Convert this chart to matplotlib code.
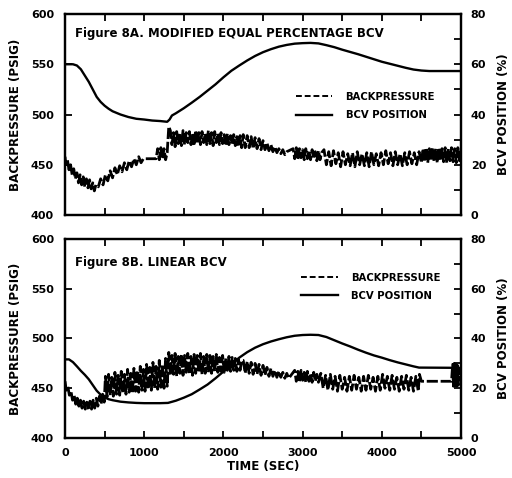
import matplotlib
matplotlib.use("Agg")
import matplotlib.pyplot as plt
from matplotlib.ticker import MultipleLocator
from matplotlib.lines import Line2D

# ---------------- Figure 8A data ----------------
bpA_t = [0, 10, 30, 50, 70, 90, 110, 130, 150, 170, 190, 210, 230, 250, 270, 290, 310, 330, 350, 370, 390,
         420, 450, 480, 510, 540, 570, 600, 630, 660, 690, 720, 750, 780, 810, 840, 870, 900, 930, 960,
         990, 1150,
         1170, 1190, 1210, 1230, 1250, 1270, 1290, 1310,
         1330, 1350, 1370, 1390, 1410, 1430, 1450, 1470, 1490, 1510, 1530, 1550, 1570, 1590, 1610, 1630,
         1650, 1670, 1690, 1710, 1730, 1750, 1770, 1790, 1810, 1830, 1850, 1870, 1890, 1910, 1930, 1950,
         1970, 1990, 2010, 2030, 2050, 2070, 2090, 2110, 2130, 2150, 2170, 2190, 2210, 2230,
         2250, 2275, 2300, 2325, 2350, 2375, 2400, 2425, 2450, 2475, 2500, 2525, 2550, 2575, 2600, 2625,
         2650, 2675, 2700, 2725, 2750, 2775, 2800,
         2880, 2900, 2920, 2940, 2960, 2980, 3000, 3020, 3040, 3060, 3080, 3100, 3120, 3140, 3160, 3180,
         3200, 3220, 3240,
         3270, 3300, 3330, 3360, 3390, 3420, 3450, 3480, 3510, 3540, 3570, 3600, 3630, 3660, 3690, 3720,
         3750, 3780, 3810, 3840, 3870, 3900, 3930, 3960, 3990, 4020, 4050, 4080, 4110, 4140, 4170, 4200,
         4230, 4260, 4290, 4320, 4350, 4380, 4410, 4440, 4470, 4500,
         4520, 4540, 4560, 4580, 4600, 4620, 4640, 4660, 4680, 4700, 4720, 4740, 4760, 4780, 4800, 4820,
         4840, 4860, 4880, 4900, 4920, 4940, 4960, 4980, 5000]
bpA_v = [458, 450, 455, 445, 450, 440, 446, 436, 442, 432, 440, 430, 438, 428, 436, 427, 435, 426, 432, 424, 430,
         428, 436, 430, 440, 434, 444, 437, 447, 440, 449, 443, 452, 445, 454, 448, 456, 450, 458, 452,
         456, 456,
         466, 455, 467, 456, 466, 455, 462, 488,
         484, 470, 482, 468, 483, 471, 481, 469, 484, 470, 482, 472, 483, 470, 481, 469,
         484, 471, 482, 470, 483, 472, 481, 470, 484, 471, 482, 469, 483, 472, 481, 470,
         482, 471, 480, 469, 481, 470, 479, 470, 480, 469, 478, 468, 479, 467,
         480, 467, 479, 467, 478, 466, 477, 466, 476, 465, 474, 465, 472, 464, 470, 463,
         468, 462, 466, 461, 465, 460, 463,
         466, 456, 467, 455, 466, 457, 465, 455, 466, 456, 464, 455, 465, 456, 463, 454,
         464, 455, 462,
         465, 450, 463, 449, 464, 451, 462, 448, 463, 450, 461, 449, 462, 448, 463, 450,
         461, 449, 462, 448, 463, 450, 461, 449, 462, 450, 464, 451, 462, 449, 463, 450,
         461, 449, 462, 450, 463, 451, 462, 450, 463, 452,
         466, 453, 467, 452, 466, 454, 467, 453, 466, 452, 467, 454, 466, 453, 467, 452,
         466, 454, 467, 453, 466, 452, 467, 454, 466]

bcvA_t = [0, 100, 150, 200, 250, 300, 350, 400, 450, 500, 550, 600, 700, 800, 900, 1000, 1100, 1200,
          1290, 1320, 1350, 1400, 1500, 1600, 1700, 1800, 1900, 2000, 2100, 2200, 2300, 2400, 2500,
          2600, 2700, 2800, 2900, 3000, 3100, 3200, 3300, 3400, 3500, 3600, 3700, 3800, 3900, 4000,
          4100, 4200, 4300, 4400, 4500, 4600, 5000]
bcvA_v = [60, 60, 59.5, 58, 55.5, 53, 50, 47, 45, 43.5, 42.3, 41.3, 40, 39, 38.3, 38, 37.6, 37.4,
          37.1, 38, 39.6, 40.5, 42.5, 44.7, 47, 49.5, 52, 54.8, 57.4, 59.5, 61.5, 63.3, 64.8,
          66, 67, 67.7, 68.2, 68.4, 68.5, 68.3, 67.6, 66.8, 65.8, 64.9, 64, 63, 62, 61,
          60.2, 59.4, 58.6, 57.9, 57.5, 57.3, 57.3]

# ---------------- Figure 8B data ----------------
bpB_t = [0, 15, 35, 55, 75, 95, 115, 135, 155, 175, 195, 215, 235, 255, 275, 295, 315, 335, 355, 375,
         395, 415, 435, 455, 475, 495,
         510, 530, 550, 570, 590, 610, 630, 650, 670, 690, 710, 730, 750, 770, 790, 810, 830, 850, 870, 890,
         910, 930, 950, 970, 990, 1010, 1030, 1050, 1070, 1090, 1110, 1130, 1150, 1170, 1190, 1210, 1230,
         1250, 1270, 1290,
         1310, 1330, 1350, 1370, 1390, 1410, 1430, 1450, 1470, 1490, 1510, 1530, 1550, 1570, 1590, 1610,
         1630, 1650, 1670, 1690, 1710, 1730, 1750, 1770, 1790, 1810, 1830, 1850, 1870, 1890, 1910, 1930,
         1950, 1970, 1990, 2010, 2030, 2050, 2070, 2090, 2110, 2130, 2150, 2170, 2190, 2210, 2230,
         2250, 2275, 2300, 2325, 2350, 2375, 2400, 2425, 2450, 2475, 2500, 2525, 2550, 2575, 2600, 2625,
         2650, 2675, 2700, 2725, 2750, 2775, 2800, 2825,
         2900, 2920, 2940, 2960, 2980, 3000, 3020, 3040, 3060, 3080, 3100, 3120, 3140, 3160, 3180, 3200,
         3230, 3260, 3290, 3320, 3350, 3380, 3410, 3440, 3470, 3500, 3530, 3560, 3590, 3620, 3650, 3680,
         3710, 3740, 3770, 3800, 3830, 3860, 3890, 3920, 3950, 3980, 4010, 4040, 4070, 4100, 4130, 4160,
         4190, 4220, 4250, 4280, 4310, 4340, 4370, 4400, 4430,
         4460, 4475, 4500, 4880, 4895, 4905, 4915, 4925, 4935, 4945, 4955, 4965, 4975, 5000]
bpB_v = [457, 448, 452, 443, 447, 438, 443, 434, 440, 432, 438, 430, 437, 429, 436, 428, 437, 429, 438, 430,
         440, 432, 442, 434, 444, 436,
         462, 441, 464, 443, 461, 442, 466, 444, 463, 443, 467, 445, 464, 444, 469, 446, 465, 445, 470, 447,
         468, 446, 472, 448, 469, 447, 474, 449, 471, 448, 476, 450, 472, 449, 478, 451, 474,
         450, 480, 452,
         486, 463, 483, 464, 485, 462, 482, 465, 484, 463, 483, 466, 485, 464, 482, 463,
         484, 465, 483, 466, 485, 464, 482, 465, 484, 466, 483, 465, 482, 467, 484, 466,
         481, 467, 483, 466, 480, 468, 482, 467, 481, 468, 480, 467, 479, 468, 478,
         478, 465, 477, 465, 476, 464, 475, 464, 474, 463, 473, 463, 471, 462, 470, 462,
         468, 461, 467, 461, 466, 460, 465, 460,
         468, 457, 467, 456, 468, 458, 466, 456, 467, 457, 465, 456, 466, 457, 464, 456,
         465, 450, 463, 448, 464, 449, 462, 447, 463, 449, 461, 447, 462, 448, 463, 449,
         461, 447, 462, 448, 463, 449, 461, 447, 462, 448, 464, 450, 462, 448, 463, 449,
         461, 447, 462, 449, 463, 448, 461, 447, 462,
         447, 464, 457, 457, 474, 452, 475, 451, 474, 452, 473, 453, 470, 458]

bcvB_t = [0, 50, 100, 150, 200, 250, 300, 350, 400, 450, 500, 550, 600, 700, 800, 900, 1000, 1100,
          1200, 1300, 1400, 1500, 1600, 1700, 1800, 1900, 2000, 2100, 2200, 2300, 2400, 2500, 2600,
          2700, 2800, 2900, 3000, 3100, 3200, 3300, 3400, 3500, 3600, 3700, 3800, 3900, 4000, 4100,
          4200, 4300, 4400, 4470, 5000]
bcvB_v = [31.6, 31.6, 30.5, 28.8, 27, 25.4, 23.6, 21.3, 19, 17.4, 16.3, 15.6, 15.2, 14.6, 14.3, 14.1,
          14, 14, 14, 14.1, 15, 16.2, 17.6, 19.5, 21.5, 24, 26.7, 29.6, 32.3, 34.5, 36.3, 37.7, 38.8,
          39.7, 40.5, 41.1, 41.4, 41.5, 41.4, 40.6, 39.3, 38, 36.8, 35.5, 34.3, 33.2, 32.3, 31.3,
          30.4, 29.6, 28.8, 28.3, 28.2]

assert len(bpA_t) == len(bpA_v), (len(bpA_t), len(bpA_v))
assert len(bpB_t) == len(bpB_v), (len(bpB_t), len(bpB_v))
assert len(bcvA_t) == len(bcvA_v), (len(bcvA_t), len(bcvA_v))
assert len(bcvB_t) == len(bcvB_v), (len(bcvB_t), len(bcvB_v))

titles = ["Figure 8A. MODIFIED EQUAL PERCENTAGE BCV", "Figure 8B. LINEAR BCV"]
legend_labels = ["BACKPRESSURE", "BCV POSITION"]
xticks = [0, 1000, 2000, 3000, 4000, 5000]
left_ticks = [400, 450, 500, 550, 600]
right_ticks = [0, 20, 40, 60, 80]

plt.rcParams['font.family'] = ['DejaVu Sans']
plt.rcParams['font.weight'] = 'bold'

fig = plt.figure(figsize=(5.12, 4.78), dpi=100)
panels = [
    ([0.127, 0.5502, 0.7734, 0.4205], bpA_t, bpA_v, bcvA_t, bcvA_v, titles[0], (0.56, 0.542), 0.905),
    ([0.127, 0.0837, 0.7734, 0.4163], bpB_t, bpB_v, bcvB_t, bcvB_v, titles[1], (0.573, 0.759), 0.884),
]

dash = (0, (4, 1))
for i, (rect, bt, bv, ct, cv, title, legpos, ty) in enumerate(panels):
    ax = fig.add_axes(rect)
    ax2 = ax.twinx()
    ax.plot(bt, bv, color='black', lw=2.0, ls=dash)
    ax2.plot(ct, cv, color='black', lw=1.7)
    ax.set_xlim(0, 5000)
    ax.set_ylim(400, 600)
    ax2.set_ylim(0, 80)
    ax.set_xticks(xticks)
    ax.xaxis.set_minor_locator(MultipleLocator(500))
    ax.set_yticks(left_ticks)
    ax2.set_yticks(right_ticks)
    ax2.yaxis.set_minor_locator(MultipleLocator(10))
    ax.tick_params(axis='x', which='both', direction='in', length=5, width=1.3,
                   top=True, labelsize=8, pad=7)
    ax.tick_params(axis='y', which='both', direction='in', length=5, width=1.3,
                   labelsize=8, pad=8)
    ax2.tick_params(axis='y', which='both', direction='in', length=5, width=1.3,
                    labelsize=8, pad=7)
    for a in (ax, ax2):
        for s in a.spines.values():
            s.set_linewidth(1.6)
    if i == 0:
        ax.set_xticklabels([])
    else:
        ax.set_xlabel("TIME (SEC)", fontsize=8.5, fontweight='bold')
        ax.xaxis.set_label_coords(0.5, -0.11)
    ax.set_ylabel("BACKPRESSURE (PSIG)", fontsize=8.6, fontweight='bold')
    ax.yaxis.set_label_coords(-0.109, 0.5)
    ax2.set_ylabel("BCV POSITION (%)", fontsize=8.5, fontweight='bold', rotation=90)
    ax2.yaxis.set_label_coords(1.091, 0.5)
    ax.text(0.025, ty, title, transform=ax.transAxes, fontsize=8.5, fontweight='bold',
            ha='left', va='center')
    handles = [Line2D([], [], color='black', lw=1.4, ls=(0, (3, 1.5))),
               Line2D([], [], color='black', lw=1.7)]
    ax.legend(handles, legend_labels, loc='center left',
              bbox_to_anchor=legpos, frameon=False, handlelength=3.6,
              handletextpad=1.3, labelspacing=0.8, prop={'weight': 'bold', 'size': 7.3})

fig.savefig("out.png", dpi=100)
